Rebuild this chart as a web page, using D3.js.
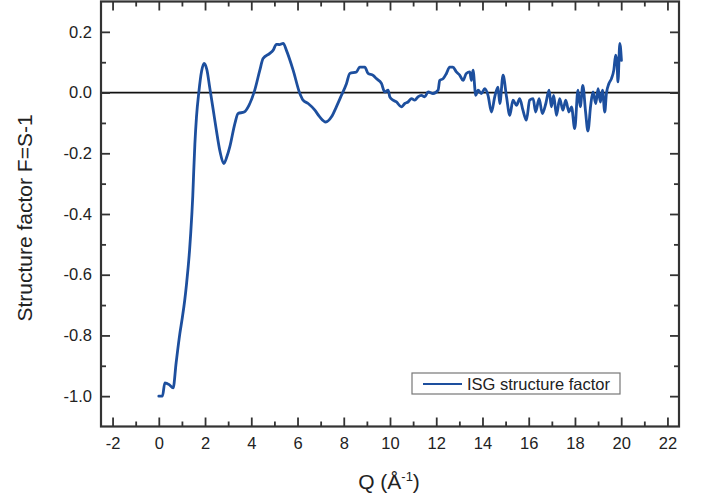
<!DOCTYPE html>
<html>
<head>
<meta charset="utf-8">
<script src="https://cdn.jsdelivr.net/npm/d3@7"></script>
<style>
  html, body { margin: 0; padding: 0; background: #fff; }
  svg { display: block; font-family: "Liberation Sans", Arial, sans-serif; }
</style>
</head>
<body>
<svg id="chart" width="702" height="497"></svg>
<script>
// ---- data ----
const seriesName = "ISG structure factor";
const qValues = [
  0.0, 0.16, 0.26, 0.45, 0.62, 0.75, 0.91, 1.02, 1.12, 1.2, 1.27, 1.33, 1.38, 1.43, 1.47, 1.51, 1.56, 1.63, 1.73, 1.85, 1.96, 2.08, 2.2, 2.35, 2.49, 2.65, 2.81, 2.95, 3.07, 3.29, 3.43, 3.69, 3.9, 4.15, 4.37,
  4.51, 4.8, 4.94, 5.09, 5.22, 5.38, 5.52, 5.81, 6.1, 6.24, 6.46, 6.75, 6.96, 7.22, 7.47, 7.68, 7.9, 8.12, 8.26, 8.55, 8.69, 8.91, 9.05, 9.27, 9.41, 9.63, 9.77, 9.92, 9.99,
  10.13, 10.28, 10.49, 10.64, 10.78, 10.93, 11.07, 11.21, 11.36, 11.5, 11.65, 11.86, 12.08, 12.15, 12.3, 12.44, 12.58, 12.72, 12.87, 13.02, 13.16, 13.3, 13.45, 13.52, 13.59,
  13.71, 13.81, 13.95, 14.1, 14.24, 14.39, 14.53, 14.67, 14.75, 14.89, 15.04, 15.18, 15.32, 15.47, 15.61, 15.75, 15.9, 16.04, 16.19, 16.3, 16.45, 16.59, 16.74, 16.88, 16.98,
  17.08, 17.2, 17.34, 17.48, 17.6, 17.74, 17.85, 17.99, 18.13, 18.23, 18.34, 18.46, 18.56, 18.68, 18.78, 18.9, 19.0, 19.1, 19.19, 19.29, 19.36, 19.47, 19.58, 19.68, 19.76,
  19.82, 19.86, 19.94, 20.01
];
const fValues = [
  -1.0, -1.0, -0.956, -0.962, -0.973, -0.89, -0.794, -0.74, -0.685, -0.63, -0.575, -0.52, -0.464, -0.4, -0.34, -0.26, -0.17, -0.08, 0.0, 0.07, 0.096, 0.075, 0.018, -0.055, -0.124, -0.195, -0.234, -0.21, -0.179, -0.102, -0.069, -0.064, -0.042, 0.008, 0.074,
  0.112, 0.129, 0.139, 0.159, 0.158, 0.162, 0.139, 0.074, -0.003, -0.025, -0.036, -0.058, -0.08, -0.097, -0.08, -0.047, -0.009, 0.03, 0.063, 0.068, 0.084, 0.084, 0.063, 0.057, 0.046, 0.03, 0.002, 0.008, -0.014,
  -0.025, -0.031, -0.047, -0.036, -0.031, -0.02, -0.025, -0.014, -0.009, -0.014, 0.002, -0.003, 0.008, 0.04, 0.046, 0.063, 0.084, 0.084, 0.068, 0.057, 0.04, 0.063, 0.068, 0.04, 0.074,
  -0.009, 0.008, -0.003, 0.013, -0.009, -0.064, -0.014, 0.018, -0.036, 0.057, -0.014, -0.075, -0.025, -0.042, -0.02, -0.058, -0.091, -0.025, -0.02, -0.064, -0.02, -0.069, -0.036, 0.008, -0.047,
  -0.009, -0.075, -0.02, -0.058, -0.025, -0.064, -0.047, -0.119, 0.008, -0.047, 0.024, -0.064, -0.127, -0.042, 0.002, -0.036, 0.013, -0.031, 0.008, -0.064, -0.003, 0.03, 0.046, 0.074, 0.123,
  0.096, 0.035, 0.162, 0.106
];
const xMajorTicks = [-2, 0, 2, 4, 6, 8, 10, 12, 14, 16, 18, 20, 22];
const xMinorTicks = [-1, 1, 3, 5, 7, 9, 11, 13, 15, 17, 19, 21];
const yMajorTicks = [-1.0, -0.8, -0.6, -0.4, -0.2, 0.0, 0.2];
const yMinorTicks = [-0.9, -0.7, -0.5, -0.3, -0.1, 0.1];
const xTitle = "Q (Å";
const yTitle = "Structure factor F=S-1";

// ---- layout ----
const svg = d3.select("#chart");
const L = 101, R = 679, T = 1.5, B = 426.5;
const x = d3.scaleLinear().domain([-2.5, 22.5]).range([L, R]);
const y = d3.scaleLinear().domain([-1.1, 0.3]).range([B, T]);
const axisColor = "#333";
const lineColor = "#1d4f9e";
const labelSize = 16.5;

const data = qValues.map((q, i) => ({ q, f: fValues[i] }));

// zero line
svg.append("line")
  .attr("x1", L).attr("x2", R)
  .attr("y1", y(0)).attr("y2", y(0))
  .attr("stroke", "#111").attr("stroke-width", 1.8);

// data line
svg.append("path")
  .datum(data)
  .attr("fill", "none")
  .attr("stroke", lineColor)
  .attr("stroke-width", 2.8)
  .attr("stroke-linejoin", "round")
  .attr("stroke-linecap", "round")
  .attr("d", d3.line().curve(d3.curveMonotoneX).x(d => x(d.q)).y(d => y(d.f)));

function styleAxis(g) {
  g.select(".domain").remove();
  g.selectAll(".tick line").attr("stroke", axisColor).attr("stroke-width", 1.8);
  g.selectAll("text").attr("fill", "#222").attr("font-size", labelSize);
}

// bottom
svg.append("g").attr("transform", `translate(0,${B})`)
  .call(d3.axisBottom(x).tickValues(xMajorTicks).tickSize(-9).tickPadding(11).tickFormat(d => String(d)))
  .call(styleAxis);
svg.append("g").attr("transform", `translate(0,${B})`)
  .call(d3.axisBottom(x).tickValues(xMinorTicks).tickSize(-5).tickFormat(""))
  .call(styleAxis);
// top
svg.append("g").attr("transform", `translate(0,${T})`)
  .call(d3.axisTop(x).tickValues(xMajorTicks).tickSize(-9).tickFormat(""))
  .call(styleAxis);
svg.append("g").attr("transform", `translate(0,${T})`)
  .call(d3.axisTop(x).tickValues(xMinorTicks).tickSize(-5).tickFormat(""))
  .call(styleAxis);
// left
svg.append("g").attr("transform", `translate(${L},0)`)
  .call(d3.axisLeft(y).tickValues(yMajorTicks).tickSize(-9).tickPadding(9).tickFormat(d => d.toFixed(1)))
  .call(styleAxis);
svg.append("g").attr("transform", `translate(${L},0)`)
  .call(d3.axisLeft(y).tickValues(yMinorTicks).tickSize(-5).tickFormat(""))
  .call(styleAxis);
// right
svg.append("g").attr("transform", `translate(${R},0)`)
  .call(d3.axisRight(y).tickValues(yMajorTicks).tickSize(-9).tickFormat(""))
  .call(styleAxis);
svg.append("g").attr("transform", `translate(${R},0)`)
  .call(d3.axisRight(y).tickValues(yMinorTicks).tickSize(-5).tickFormat(""))
  .call(styleAxis);

// frame
svg.append("rect")
  .attr("x", L).attr("y", T).attr("width", R - L).attr("height", B - T)
  .attr("fill", "none").attr("stroke", axisColor).attr("stroke-width", 2.2);

// axis titles
const xt = svg.append("text")
  .attr("x", (L + R) / 2 - 1).attr("y", 489)
  .attr("text-anchor", "middle")
  .attr("font-size", 21).attr("fill", "#222");
xt.append("tspan").text(xTitle);
xt.append("tspan").attr("font-size", 13).attr("dy", -8).text("-1");
xt.append("tspan").attr("dy", 8).text(")");

svg.append("text")
  .attr("transform", `translate(32,${(T + B) / 2 + 4}) rotate(-90)`)
  .attr("text-anchor", "middle")
  .attr("font-size", 21).attr("fill", "#222")
  .text(yTitle);

// legend
const lg = svg.append("g");
lg.append("rect")
  .attr("x", 412).attr("y", 373).attr("width", 208).attr("height", 21)
  .attr("fill", "#fff").attr("stroke", "#777").attr("stroke-width", 1.2);
lg.append("line")
  .attr("x1", 423).attr("x2", 462).attr("y1", 384).attr("y2", 384)
  .attr("stroke", lineColor).attr("stroke-width", 1.8);
lg.append("text")
  .attr("x", 467).attr("y", 390)
  .attr("font-size", labelSize).attr("fill", "#222")
  .text(seriesName);
</script>
</body>
</html>
